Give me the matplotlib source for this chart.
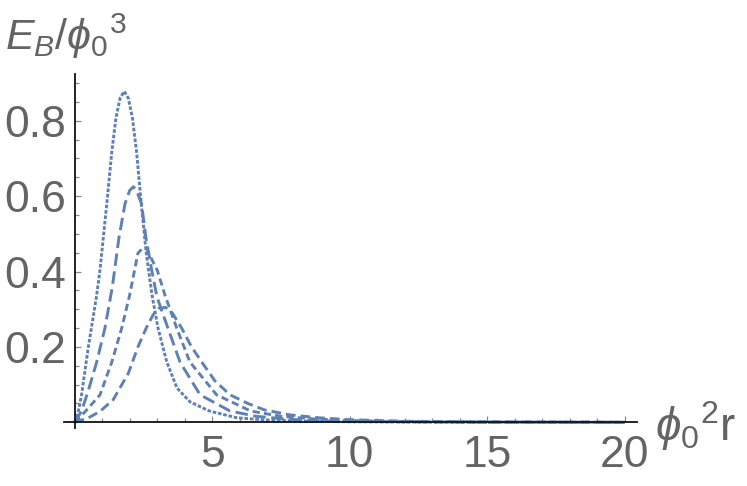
import matplotlib
matplotlib.use("Agg")
import matplotlib.pyplot as plt
from matplotlib.ticker import FixedLocator

plt.rcParams['font.family'] = ['Liberation Sans', 'DejaVu Sans']
plt.rcParams['mathtext.fontset'] = 'custom'
plt.rcParams['mathtext.rm'] = 'Liberation Sans'
plt.rcParams['mathtext.it'] = 'Liberation Sans:italic'
plt.rcParams['mathtext.fallback'] = 'stixsans'
plt.rcParams['lines.scale_dashes'] = False

# curve values (x = phi0^2 r, y = E_B / phi0^3)
xa = [0, 0.12, 0.25, 0.49, 0.8, 0.92, 1.04, 1.17, 1.35, 1.5, 1.65, 1.8, 1.95,
      2.1, 2.25, 2.42, 2.6, 2.81, 3.03, 3.35, 3.72, 4.2, 4.9, 5.9, 7.0, 8.5,
      10, 13, 20]
ya = [0, 0.025, 0.073, 0.197, 0.338, 0.404, 0.49, 0.582, 0.718, 0.807, 0.86,
      0.878, 0.86, 0.807, 0.718, 0.58, 0.45, 0.338, 0.25, 0.16, 0.091, 0.054,
      0.03, 0.012, 0.006, 0.003, 0.0015, 0.0005, 0.0]

xb = [0, 0.25, 0.49, 0.8, 1.1, 1.37, 1.61, 1.83, 2.0, 2.13, 2.25, 2.43, 2.59,
      2.8, 2.99, 3.39, 3.83, 4.56, 5.65, 6.6, 7.8, 9.0, 11, 14, 20]
yb = [0, 0.03, 0.083, 0.16, 0.25, 0.36, 0.49, 0.58, 0.615, 0.625, 0.615, 0.58,
      0.49, 0.404, 0.333, 0.25, 0.16, 0.073, 0.03, 0.016, 0.008, 0.004, 0.002,
      0.0007, 0.0]

xc = [0, 0.4, 0.92, 1.35, 1.71, 2.0, 2.3, 2.45, 2.6, 2.75, 3.0, 3.28, 3.71,
      4.19, 5.16, 6.4, 7.5, 8.7, 10, 12, 15, 20]
yc = [0, 0.03, 0.073, 0.16, 0.25, 0.338, 0.449, 0.46, 0.462, 0.44, 0.404,
      0.338, 0.25, 0.16, 0.073, 0.03, 0.016, 0.009, 0.005, 0.002, 0.0008, 0.0]

xd = [0, 0.5, 0.92, 1.4, 1.95, 2.3, 2.6, 2.85, 3.05, 3.3, 3.55, 3.89, 4.25,
      4.62, 5.1, 5.65, 6.3, 6.9, 7.8, 8.9, 10, 12, 15, 20]
yd = [0, 0.012, 0.029, 0.06, 0.13, 0.2, 0.25, 0.285, 0.302, 0.305, 0.29,
      0.25, 0.2, 0.16, 0.11, 0.073, 0.05, 0.033, 0.02, 0.012, 0.007, 0.003,
      0.001, 0.0003]

xticks = [5, 10, 15, 20]
yticks = [0.2, 0.4, 0.6, 0.8]
ytick_labels = ['0.2', '0.4', '0.6', '0.8']

blue = '#5e81b5'
grey = '#646464'

W, H = 747, 486
fig = plt.figure(figsize=(W / 100, H / 100), dpi=100)
ax = fig.add_axes([63.7 / W, (H - 428) / H, (637 - 63.7) / W, (428 - 74) / H])
ax.set_xlim(-0.4, 20.45)
ax.set_ylim(-0.015, 0.924)

lw = 2.1
ax.plot(xa, ya, color=blue, lw=lw, dashes=(2.6, 1.3))
ax.plot(xb, yb, color=blue, lw=lw, dashes=(9.0, 4.0))
ax.plot(xc, yc, color=blue, lw=lw, dashes=(5.2, 3.0))
ax.plot(xd, yd, color=blue, lw=lw, dashes=(7.0, 3.6))

for s in ['top', 'right']:
    ax.spines[s].set_visible(False)
ax.spines['left'].set_position(('data', 0))
ax.spines['bottom'].set_position(('data', 0))
for s in ['left', 'bottom']:
    ax.spines[s].set_color('#111111')
    ax.spines[s].set_linewidth(1.3)

ax.xaxis.set_major_locator(FixedLocator(xticks))
ax.xaxis.set_minor_locator(FixedLocator([i for i in range(1, 21) if i % 5]))
ax.yaxis.set_major_locator(FixedLocator(yticks))
ax.yaxis.set_minor_locator(FixedLocator([0.05 * i for i in range(1, 19) if i % 4]))
ax.set_yticklabels(ytick_labels)
ax.tick_params(which='both', direction='in', color='#888888', width=0.9,
               labelsize=32, labelcolor=grey)
ax.tick_params(which='major', length=4.0)
ax.tick_params(which='minor', length=2.6)
ax.tick_params(axis='x', pad=9)
ax.tick_params(axis='y', pad=6)

fig.text(5 / W, 1 - 50 / H, r'$E_B/\phi_0{}^3$', fontsize=31, color=grey,
         ha='left', va='baseline')
fig.text(655 / W, 1 - 441 / H, r'$\phi_0{}^2\mathrm{r}$', fontsize=33,
         color=grey, ha='left', va='baseline')

fig.savefig('out.png', dpi=100)
